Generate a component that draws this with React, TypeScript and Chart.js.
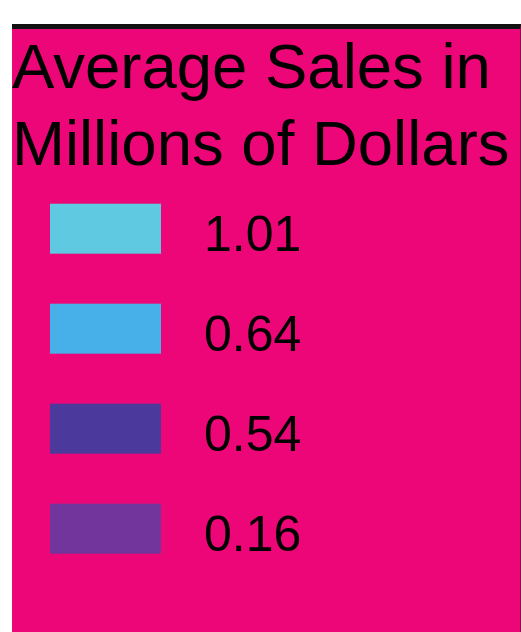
import React, { useEffect, useRef } from "react";
import { Chart, registerables } from "chart.js";

Chart.register(...registerables);

const titleLines = ["Average Sales in", "Millions of Dollars"];
const salesValues = [1.01, 0.64, 0.54, 0.16];
const legendLabels = ["1.01", "0.64", "0.54", "0.16"];
const swatchColors = ["#5ec9e1", "#47b0e8", "#4b3a9b", "#71359c"];

const PINK = "#ec0677";
const FONT = "'Liberation Sans', Arial, sans-serif";

function makeSwatch(color: string): HTMLCanvasElement {
  const c = document.createElement("canvas");
  c.width = 161;
  c.height = 80;
  const g = c.getContext("2d");
  if (g) {
    g.fillStyle = color;
    g.fillRect(10, 6, 111, 50);
  }
  return c;
}

export default function App() {
  const ref = useRef<HTMLCanvasElement | null>(null);

  useEffect(() => {
    document.body.style.overflow = "hidden";
    const canvas = ref.current;
    if (!canvas) return;
    const swatches = swatchColors.map(makeSwatch);
    const chart = new Chart(canvas, {
      type: "doughnut",
      data: {
        labels: legendLabels,
        datasets: [
          {
            data: salesValues,
            backgroundColor: swatchColors,
            borderWidth: 0,
            hidden: true,
          },
        ],
      },
      options: {
        responsive: false,
        animation: false,
        layout: { padding: 0 },
        plugins: {
          tooltip: { enabled: false },
          title: {
            display: true,
            text: titleLines,
            align: "start",
            color: "#000",
            font: { family: FONT, size: 63.5, weight: "normal", lineHeight: 1.21 },
            padding: { top: 3, bottom: -23 },
          },
          legend: {
            display: true,
            position: "left",
            align: "start",
            fullSize: false,
            maxWidth: 500,
            labels: {
              usePointStyle: true,
              pointStyleWidth: 117,
              padding: 50,
              color: "#000",
              font: { family: FONT, size: 50 },
              generateLabels: () =>
                legendLabels.map((text, i) => ({
                  text,
                  fillStyle: swatchColors[i],
                  strokeStyle: swatchColors[i],
                  lineWidth: 0,
                  fontColor: "#000",
                  pointStyle: swatches[i],
                  hidden: false,
                  index: i,
                  datasetIndex: 0,
                })),
            },
          },
        },
      },
    } as any);
    return () => chart.destroy();
  }, []);

  return (
    <div
      style={{
        position: "absolute",
        left: 12,
        top: 24,
        width: 508,
        height: 603,
        background: PINK,
        borderTop: "5px solid #111",
        borderRight: "1px solid #8a0a4c",
      }}
    >
      <canvas ref={ref} width={508} height={603} style={{ display: "block" }} />
    </div>
  );
}
